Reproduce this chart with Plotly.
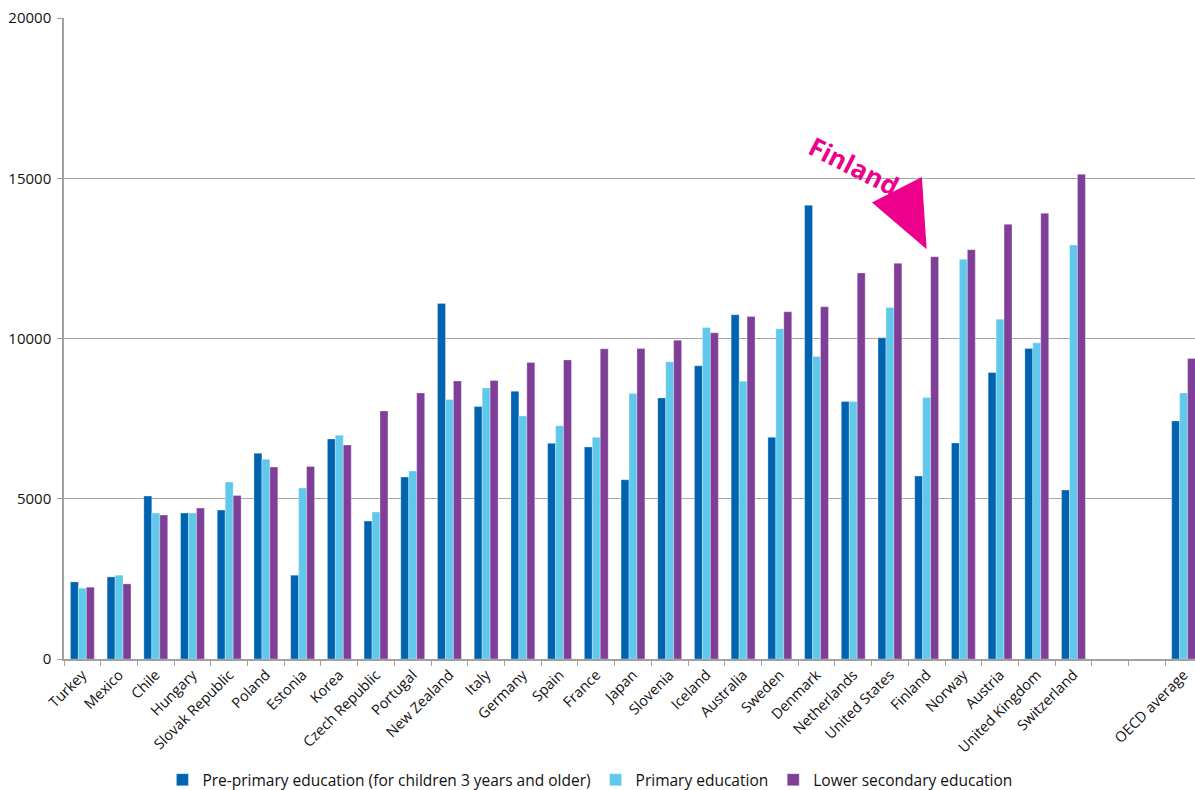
import plotly.graph_objects as go

countries = ["Turkey", "Mexico", "Chile", "Hungary", "Slovak Republic", "Poland", "Estonia",
             "Korea", "Czech Republic", "Portugal", "New Zealand", "Italy", "Germany", "Spain",
             "France", "Japan", "Slovenia", "Iceland", "Australia", "Sweden", "Denmark",
             "Netherlands", "United States", "Finland", "Norway", "Austria", "United Kingdom",
             "Switzerland", " ", "  ", "OECD average"]

pre_primary = [2406, 2562, 5083, 4552, 4646, 6417, 2615, 6865, 4302, 5677, 11094, 7875, 8354,
               6729, 6615, 5594, 8146, 9146, 10740, 6917, 14156, 8031, 10021, 5708, 6740, 8938,
               9688, 5271, None, None, 7427]
primary = [2208, 2615, 4552, 4552, 5521, 6229, 5333, 6979, 4583, 5865, 8094, 8458, 7583,
           7281, 6917, 8281, 9271, 10344, 8667, 10302, 9438, 8031, 10969, 8156, 12469, 10604,
           9865, 12917, None, None, 8302]
lower_secondary = [2240, 2344, 4490, 4708, 5104, 5990, 6010, 6677, 7740, 8302, 8677, 8688,
                   9250, 9333, 9677, 9688, 9948, 10177, 10688, 10833, 10990, 12042, 12344,
                   12552, 12771, 13563, 13906, 15125, None, None, 9375]

y_ticks = [0, 5000, 10000, 15000, 20000]
y_ticktext = ["0", "5000", "10000", "15000", "20000"]

series_names = ["Pre-primary education (for children 3 years and older)",
                "Primary education", "Lower secondary education"]
colors = ["#0063B0", "#60C9EB", "#7F3F98"]

fig = go.Figure()
for name, vals, col in zip(series_names, [pre_primary, primary, lower_secondary], colors):
    fig.add_trace(go.Bar(x=countries, y=vals, name=name,
                         marker=dict(color=col, line=dict(color="rgba(255,255,255,0.6)", width=0.5))))

fi = countries.index("Finland")
fi_val = lower_secondary[fi]

# arrow head pointing at Finland
tip = (fi, fi_val + 230)
p1 = (fi - 1.49, fi_val + 1690)
p2 = (fi - 0.13, fi_val + 2490)
fig.add_shape(type="path",
              path=f"M {p1[0]} {p1[1]} L {p2[0]} {p2[1]} L {tip[0]} {tip[1]} Z",
              xref="x", yref="y", fillcolor="#EC008C", line=dict(width=0), layer="above")
fig.add_annotation(x=fi - 1.97, y=fi_val + 2840, xref="x", yref="y", text="<b>Finland</b>",
                   showarrow=False, textangle=27,
                   font=dict(family="Open Sans", size=26, color="#EC008C"))

fig.update_layout(
    width=1195, height=790,
    margin=dict(l=64, r=0, t=18, b=131, autoexpand=False),
    paper_bgcolor="white", plot_bgcolor="white",
    barmode="group", bargap=0.35, bargroupgap=0,
    font=dict(family="Open Sans", size=14, color="#111111"),
    legend=dict(orientation="h", x=0.465, xanchor="center", y=-0.189, yanchor="middle",
                font=dict(size=15.5), itemwidth=30, traceorder="normal"),
    showlegend=True,
)
fig.update_xaxes(type="category", categoryorder="array", categoryarray=countries,
                 range=[-0.5, 30.31], tickangle=-45, tickson="boundaries",
                 ticks="outside", ticklen=5, tickcolor="#A0A0A0", automargin=False,
                 showline=True, linecolor="#A0A0A0", linewidth=1.5,
                 showgrid=False, tickfont=dict(size=14.5))
fig.update_yaxes(range=[0, 20000], tickvals=y_ticks, ticktext=y_ticktext,
                 ticks="outside", ticklen=5, tickcolor="#A0A0A0", automargin=False,
                 showline=True, linecolor="#A0A0A0", linewidth=1.5,
                 showgrid=True, gridcolor="#A6A6A6", gridwidth=1,
                 zeroline=False, tickfont=dict(size=15), ticklabelstandoff=3)

fig.write_html("out.html", config={"displayModeBar": False},
               post_script="document.body.style.margin='0';document.body.style.overflow='hidden';")
